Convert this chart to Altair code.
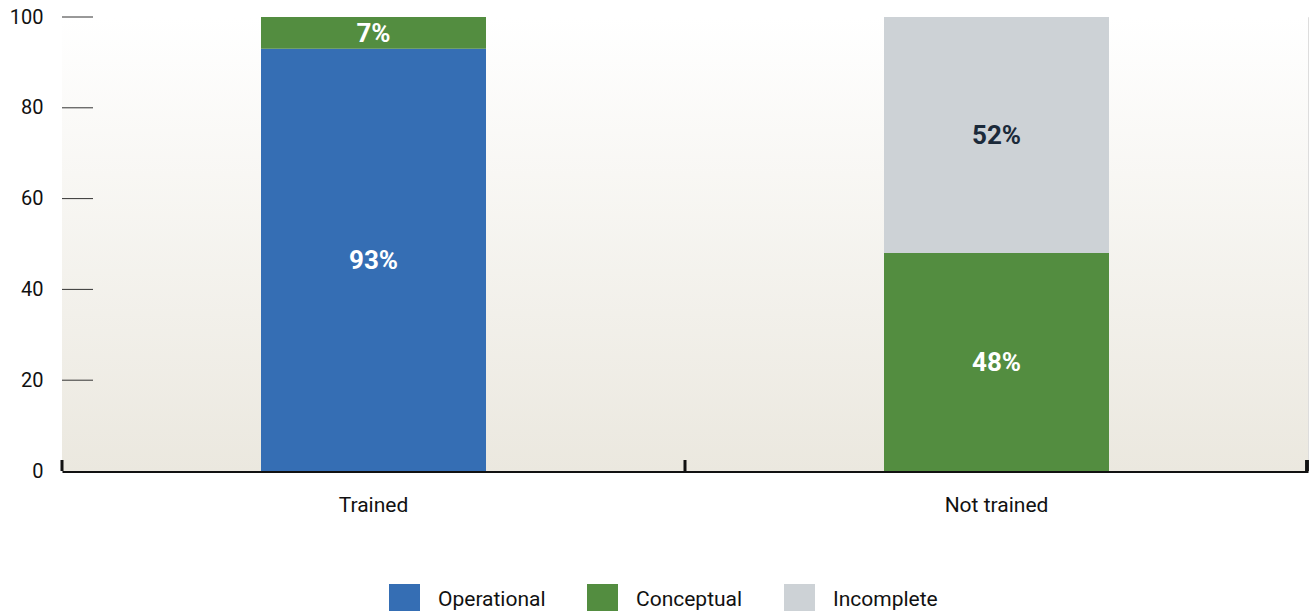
import altair as alt
import pandas as pd

groups = ["Trained", "Trained", "Not trained", "Not trained"]
categories = ["Operational", "Conceptual", "Conceptual", "Incomplete"]
values = [93, 7, 48, 52]
stack_rank = [0, 1, 1, 2]

legend_order = ["Operational", "Conceptual", "Incomplete"]
legend_colors = ["#356eb4", "#538d40", "#cdd2d6"]
group_order = ["Trained", "Not trained"]
y_ticks = [0, 20, 40, 60, 80, 100]

df = pd.DataFrame({"group": groups, "category": categories,
                   "value": values, "rank": stack_rank})
ticks_df = pd.DataFrame({"t": y_ticks[1:]})

W, H = 1246, 454
FONT = "Roboto"

xscale = alt.Scale(domain=group_order, paddingInner=0, paddingOuter=0)
yscale = alt.Scale(domain=[0, 100])

bg = alt.Chart(df).mark_rect(
    color=alt.LinearGradient(
        gradient="linear", x1=0, x2=0, y1=0, y2=1,
        stops=[alt.GradientStop(color="#ffffff", offset=0),
               alt.GradientStop(color="#ebe8df", offset=1)]
    )
).encode(x=alt.value(0), x2=alt.value(W), y=alt.value(0), y2=alt.value(H))

base = alt.Chart(df).transform_stack(
    stack="value", groupby=["group"], as_=["y0", "y1"],
    sort=[alt.SortField("rank", order="ascending")]
).transform_calculate(mid="(datum.y0 + datum.y1) / 2",
                      label="datum.value + '%'")

bars = base.mark_bar(size=225).encode(
    x=alt.X("group:N", scale=xscale, sort=group_order,
            axis=alt.Axis(title=None, labelAngle=0, ticks=False, tickSize=0,
                          labelPadding=23, labelFontSize=21, labelFont=FONT,
                          labelColor="#111111", domainColor="#111111",
                          domainWidth=3)),
    y=alt.Y("y0:Q", scale=yscale,
            axis=alt.Axis(title=None, values=y_ticks, grid=False, ticks=False,
                          tickSize=0, labelPadding=19, labelFontSize=20,
                          labelFont=FONT, labelColor="#111111",
                          domainColor="#8a8a8a", domainWidth=1)),
    y2="y1:Q",
    color=alt.Color("category:N",
                    scale=alt.Scale(domain=legend_order, range=legend_colors),
                    legend=alt.Legend(title=None, orient="none", direction="horizontal",
                                      legendX=327, legendY=567, padding=0,
                                      symbolType="square", symbolSize=961,
                                      symbolStrokeWidth=0, labelFontSize=21,
                                      labelFont=FONT, labelColor="#111111",
                                      labelOffset=18, columnPadding=41)),
)

texts = base.mark_text(font=FONT, fontSize=26, fontWeight="bold", dy=1).encode(
    x=alt.X("group:N", scale=xscale, sort=group_order),
    y=alt.Y("mid:Q", scale=yscale),
    text="label:N",
    color=alt.condition(alt.datum.category == "Incomplete",
                        alt.value("#1b2a3a"), alt.value("#ffffff")),
)

yt = alt.Chart(ticks_df).mark_rule(color="#333333", strokeWidth=1).encode(
    y=alt.Y("t:Q", scale=yscale), x=alt.value(0), x2=alt.value(31)
)

xt = base.transform_filter(alt.datum.rank == 1).mark_rule(
    color="#111111", strokeWidth=3).encode(
    x=alt.X("group:N", scale=xscale, sort=group_order, bandPosition=0),
    y=alt.value(H - 11), y2=alt.value(H)
)
xt_end = alt.Chart(df).mark_rule(color="#111111", strokeWidth=3).encode(
    x=alt.value(W - 1), y=alt.value(H - 11), y2=alt.value(H)
)

chart = alt.layer(bg, yt, bars, texts, xt, xt_end).properties(
    width=W, height=H,
    autosize=alt.AutoSizeParams(type="none"),
    padding={"left": 62, "top": 17, "right": 2, "bottom": 140},
).configure_view(stroke=None).configure(background="#ffffff")

chart.save("out.html", embed_options={"renderer": "svg", "actions": False})
